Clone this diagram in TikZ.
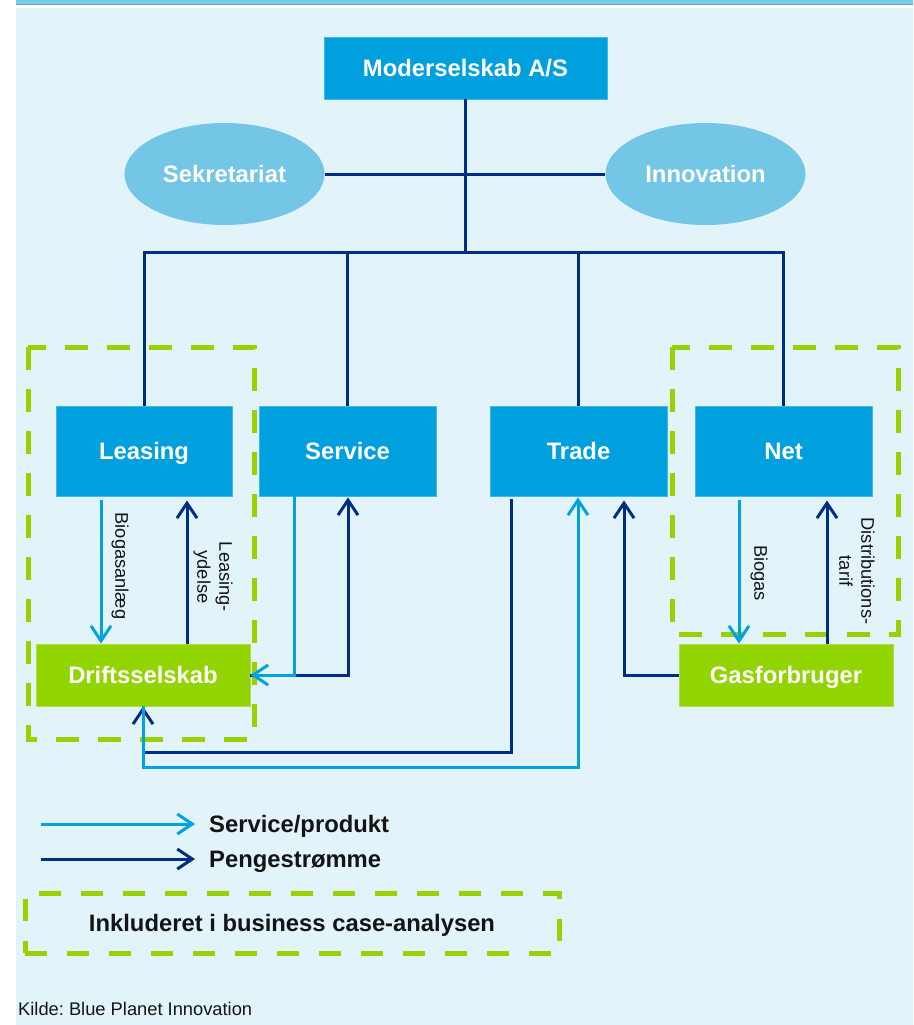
\documentclass[tikz,border=0pt]{standalone}
\usepackage{fontspec}
\setmainfont{Liberation Sans}
\usetikzlibrary{arrows.meta,shapes.geometric}
\frenchspacing

\definecolor{bg}{HTML}{E2F3FA}
\definecolor{topbar}{HTML}{7BCBE7}
\definecolor{boxblue}{HTML}{00A0DF}
\definecolor{ellblue}{HTML}{73C6E5}
\definecolor{lime}{HTML}{92D400}
\definecolor{dashgreen}{HTML}{97D200}
\definecolor{navy}{HTML}{002D84}
\definecolor{svcblue}{HTML}{00A3E0}
\definecolor{txtdark}{HTML}{141414}

\tikzset{
  capcentre/.style={text height=17pt, text depth=0pt},
  unit/.style={rectangle, fill=boxblue, draw=boxblue!75!white, line width=0.8pt,
    text=white, inner sep=0pt, capcentre,
    font=\fontsize{23.8}{28}\selectfont\bfseries},
  opbox/.style={unit, fill=lime, draw=lime!75!white},
  staff/.style={ellipse, fill=ellblue, inner sep=0pt, capcentre,
    minimum width=200pt, minimum height=102pt, text=white,
    font=\fontsize{23.8}{28}\selectfont\bfseries},
  org/.style={draw=navy, line width=3pt},
  tipv/.style={-{Straight Barb[length=15pt,width=20pt]}},
  pay/.style={draw=navy, line width=3pt, tipv},
  svc/.style={draw=svcblue, line width=3pt, tipv},
  flowlbl/.style={font=\fontsize{18.3}{22}\selectfont, text=txtdark,
    rotate=-90, align=center, inner sep=0pt},
  legtext/.style={font=\fontsize{23.8}{28}\selectfont\bfseries, text=txtdark,
    inner sep=0pt, capcentre},
  scope box/.style={draw=dashgreen, line width=5pt, dash pattern=on 23pt off 19pt},
}

\begin{document}
\begin{tikzpicture}[x=1pt, y=-1pt]
  \useasboundingbox (0,0) rectangle (913,1025);

  % background panel and top rule
  \fill[bg] (16,8) rectangle (913,1025);
  \fill[topbar] (16,0) rectangle (913,4.5);
  \draw[topbar!80!black, line width=0.6pt] (16,4.5) -- (913,4.5);

  % business case scope outlines
  \draw[scope box] (28,347) rectangle (254,739);
  \draw[scope box] (672,347) rectangle (898,634);

  % parent company, staff functions and business units
  \node[unit, minimum width=283pt, minimum height=62pt] (moder) at (465.5,68) {Moderselskab A/S};
  \node[staff] (sekr) at (224.5,174) {Sekretariat};
  \node[staff] (innov) at (705.5,174) {Innovation};

  \node[unit, minimum width=176pt, minimum height=90pt] (leasing) at (144,451) {Leasing};
  \node[unit, minimum width=177pt, minimum height=90pt] (service) at (347.5,451) {Service};
  \node[unit, minimum width=177pt, minimum height=90pt] (trade) at (578.5,451) {Trade};
  \node[unit, minimum width=177pt, minimum height=90pt] (net) at (783.5,451) {Net};

  \node[opbox, minimum width=214pt, minimum height=62pt] (drift) at (143,675) {Driftsselskab};
  \node[opbox, minimum width=214pt, minimum height=62pt] (gas) at (786,675) {Gasforbruger};

  % organisation lines
  \coordinate (hub) at (465.5,252);
  \draw[org] (moder.south) -- (hub);
  \draw[org] (sekr.east) -- (innov.west);
  \draw[org] (leasing.north) |- (hub) -| (net.north);
  \draw[org] (service.north) -- (service.north |- hub);
  \draw[org] (trade.north) -- (trade.north |- hub);

  % Leasing <-> Driftsselskab
  \draw[svc] ([xshift=-43pt,yshift=-4pt]leasing.south) -- ([xshift=-42pt]drift.north);
  \draw[pay] ([xshift=44pt]drift.north) -- ([xshift=43pt,yshift=-4pt]leasing.south);
  \node[flowlbl] (lblbio) at (120,566) {Biogasanlæg};
  \node[flowlbl] (lbllease) at (213,577) {Leasing-\\ydelse};

  % Service <-> Driftsselskab
  \draw[pay] (drift.east) -| ([xshift=0.5pt,yshift=-1pt]service.south);
  \draw[svc] ([xshift=-53.5pt]service.south) |- (drift.east);

  % Trade <-> Driftsselskab
  \draw[pay] ([xshift=-67.5pt,yshift=-3pt]trade.south) |- ([yshift=-46pt]drift.south) -- (drift.south);
  \draw[svc] (drift.south) -- ([yshift=-61pt]drift.south) -| ([xshift=-0.5pt,yshift=-1pt]trade.south);

  % Gasforbruger -> Trade
  \draw[pay] (gas.west) -| ([xshift=45.5pt,yshift=-4pt]trade.south);

  % Net <-> Gasforbruger
  \draw[svc] ([xshift=-44.5pt,yshift=-4pt]net.south) -- ([xshift=-47pt]gas.north);
  \draw[pay] ([xshift=41pt]gas.north) -- ([xshift=43.5pt,yshift=-4pt]net.south);
  \node[flowlbl] (lblbiogas) at (759,573) {Biogas};
  \node[flowlbl] (lbldist) at (857,571) {Distributions-\\tarif};

  % legend
  \node[legtext, anchor=west] (legsvc) at (209,824) {Service/produkt};
  \node[legtext, anchor=west] (legpay) at (209,859) {Pengestrømme};
  \draw[svc] ([xshift=-168pt]legsvc.west) -- ([xshift=-14pt]legsvc.west);
  \draw[pay] ([xshift=-168pt]legpay.west) -- ([xshift=-14pt]legpay.west);
  \node[legtext, draw=dashgreen, line width=5pt, dash pattern=on 22pt off 20pt,
        minimum width=534pt, minimum height=60pt] (legscope) at (292,923)
        {Inkluderet i business case-analysen};

  % source line
  \node[anchor=west, inner sep=0pt, font=\fontsize{18.3}{22}\selectfont, text=txtdark]
    (source) at (18,1009) {Kilde: Blue Planet Innovation};
\end{tikzpicture}
\end{document}
